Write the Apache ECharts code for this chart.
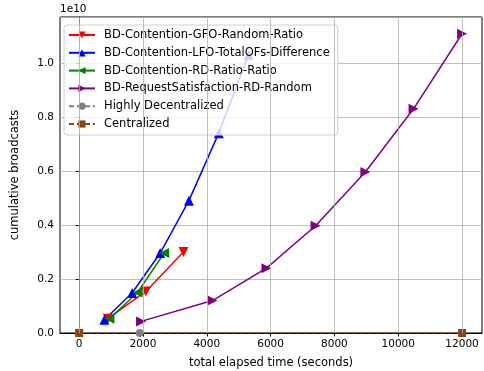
<!DOCTYPE html>
<html><head><meta charset="utf-8">
<script src="https://cdn.jsdelivr.net/npm/echarts@6/dist/echarts.min.js"></script>
<style>html,body{margin:0;padding:0;background:#fff}#c{width:484px;height:371px}</style>
</head><body><div id="c"></div>
<script>
const gfoX = [900, 2090, 3270];
const gfoY = [0.053e10, 0.154e10, 0.300e10];
const lfoX = [790, 1660, 2540, 3440, 4375, 5310];
const lfoY = [0.049e10, 0.148e10, 0.296e10, 0.49e10, 0.74e10, 1.03e10];
const rdX = [950, 1830, 2665];
const rdY = [0.053e10, 0.150e10, 0.296e10];
const rsX = [1940, 4180, 5870, 7410, 8970, 10480, 12000];
const rsY = [0.043e10, 0.120e10, 0.240e10, 0.397e10, 0.596e10, 0.830e10, 1.108e10];
const hdX = [1900];
const hdY = [0];
const cenX = [0, 12000];
const cenY = [0, 0];
const xTicks = [0, 2000, 4000, 6000, 8000, 10000, 12000];
const yTicks = [0, 0.2e10, 0.4e10, 0.6e10, 0.8e10, 1.0e10];

const F = 'DejaVu Sans';
const TF = 10.5, LF = 11.5;
const zip = (a, b) => a.map((v, i) => [v, b[i]]);
function ser(name, xs, ys, color, symbol, rot, dashed, size) {
  return {
    name, type: 'line', data: zip(xs, ys), color,
    symbol, symbolRotate: rot, symbolSize: size || 10,
    lineStyle: { color, width: 1.5, type: dashed ? [5, 3] : 'solid' },
    itemStyle: { color }, animation: false, z: 3
  };
}
const series = [
  ser('BD-Contention-GFO-Random-Ratio', gfoX, gfoY, '#ff0000', 'triangle', 180),
  ser('BD-Contention-LFO-TotalOFs-Difference', lfoX, lfoY, '#0000ff', 'triangle', 0),
  ser('BD-Contention-RD-Ratio-Ratio', rdX, rdY, '#008000', 'triangle', 90),
  ser('BD-RequestSatisfaction-RD-Random', rsX, rsY, '#800080', 'triangle', -90),
  ser('Highly Decentralized', hdX, hdY, '#808080', 'circle', 0, true, 8),
  ser('Centralized', cenX, cenY, '#8b4513', 'rect', 0, true, 8)
];
series.push({
  type: 'line', data: [], silent: true, z: 0,
  markLine: {
    silent: true, symbol: 'none', animation: false,
    label: { show: false },
    lineStyle: { color: '#b0b0b0', width: 0.8, type: 'solid' },
    data: xTicks.map(v => ({ xAxis: v }))
  }
});
const chart = echarts.init(document.getElementById('c'));
chart.setOption({
  animation: false,
  textStyle: { fontFamily: F },
  grid: { left: 60, right: 2, top: 17, bottom: 38, show: true, borderColor: '#000', borderWidth: 1,
    backgroundColor: 'transparent', containLabel: false, outerBoundsMode: 'none' },
  xAxis: {
    type: 'value', min: -600, max: 12625,
    name: 'total elapsed time (seconds)', nameLocation: 'middle', nameGap: 24,
    nameTextStyle: { fontFamily: F, fontSize: LF, color: '#000' },
    axisLine: { show: true, onZero: false, lineStyle: { color: '#000' } },
    axisTick: { show: true, length: 3.5, lineStyle: { color: '#000' }, customValues: xTicks },
    axisLabel: { fontFamily: F, fontSize: TF, color: '#000', margin: 6, customValues: xTicks,
      formatter: v => String(v) },
    splitLine: { show: false }
  },
  yAxis: {
    type: 'value', min: 0, max: 1.17e10, interval: 0.2e10,
    name: 'cumulative broadcasts', nameLocation: 'middle', nameGap: 39,
    nameTextStyle: { fontFamily: F, fontSize: LF, color: '#000' },
    axisLine: { show: true, lineStyle: { color: '#000' } },
    axisTick: { show: true, length: 3.5, lineStyle: { color: '#000' } },
    axisLabel: { fontFamily: F, fontSize: TF, color: '#000', margin: 6, showMaxLabel: false,
      formatter: v => (v / 1e10).toFixed(1) },
    splitLine: { show: true, lineStyle: { color: '#b0b0b0', width: 0.8 } }
  },
  legend: {
    orient: 'vertical', left: 64, top: 25,
    itemWidth: 26, itemHeight: 9, itemGap: 5.8,
    padding: [4, 8, 5, 4],
    backgroundColor: 'rgba(255,255,255,0.8)', borderColor: '#d0d0d0', borderWidth: 1, borderRadius: 3,
    textStyle: { fontFamily: F, fontSize: LF, color: '#000', padding: [0, 0, 0, 4] },
    data: series.slice(0, 6).map(s => s.name)
  },
  graphic: [{ type: 'text', left: 60, top: 4, style: { text: '1e10', fontFamily: F, fontSize: TF, fill: '#000' } }],
  series
});
</script></body></html>
